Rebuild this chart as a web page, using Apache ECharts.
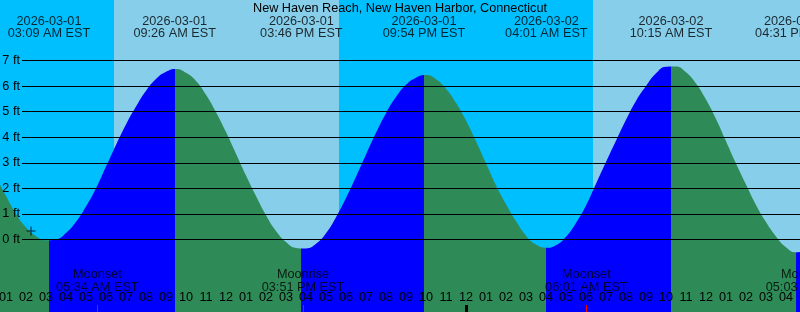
<!DOCTYPE html>
<html>
<head>
<meta charset="utf-8">
<script src="https://cdn.jsdelivr.net/npm/echarts@6/dist/echarts.min.js"></script>
<style>html,body{margin:0;padding:0;background:#fff}#c{width:800px;height:312px}</style>
</head>
<body>
<div id="c"></div>
<script>
// ---------- data (hours counted from 2026-03-01 00:00 EST) ----------
const stationTitle = 'New Haven Reach, New Haven Harbor, Connecticut';

// tide height every half hour: [hour], [feet]
const curveHours = [0.5, 1.0, 1.5, 2.0, 2.5, 3.0, 3.5, 4.0, 4.5, 5.0, 5.5, 6.0, 6.5, 7.0, 7.5, 8.0, 8.5, 9.0, 9.5,
  10.0, 10.5, 11.0, 11.5, 12.0, 12.5, 13.0, 13.5, 14.0, 14.5, 15.0, 15.5, 16.0, 16.5, 17.0, 17.5, 18.0, 18.5, 19.0, 19.5,
  20.0, 20.5, 21.0, 21.5, 22.0, 22.5, 23.0, 23.5, 24.0, 24.5, 25.0, 25.5, 26.0, 26.5, 27.0, 27.5, 28.0, 28.5, 29.0, 29.5,
  30.0, 30.5, 31.0, 31.5, 32.0, 32.5, 33.0, 33.5, 34.0, 34.5, 35.0, 35.5, 36.0, 36.5, 37.0, 37.5, 38.0, 38.5, 39.0, 39.5,
  40.0, 40.5, 41.0];
const curveFeet = [2.45, 1.70, 1.00, 0.48, 0.13, -0.03, 0.00, 0.25, 0.69, 1.29, 2.00, 2.85, 3.70, 4.50, 5.20, 5.82, 6.28, 6.56, 6.67,
  6.52, 6.20, 5.66, 4.98, 4.20, 3.35, 2.50, 1.70, 0.95, 0.33, -0.10, -0.33, -0.35, -0.17, 0.24, 0.87, 1.62, 2.45, 3.32, 4.17,
  4.94, 5.57, 6.05, 6.33, 6.43, 6.27, 5.90, 5.35, 4.65, 3.84, 2.98, 2.12, 1.38, 0.72, 0.15, -0.20, -0.32, -0.22, 0.11, 0.65,
  1.33, 2.18, 3.03, 3.86, 4.68, 5.42, 6.00, 6.50, 6.76, 6.77, 6.54, 6.10, 5.47, 4.71, 3.84, 2.97, 2.15, 1.35, 0.68, 0.12,
  -0.30, -0.50, -0.45];

// high / low tides
const extremeHours = [3.15, 9.433, 15.767, 21.9, 28.017, 34.25, 40.517];
const extremeKinds = ['low', 'high', 'low', 'high', 'low', 'high', 'low'];
const extremeDates = ['2026-03-01', '2026-03-01', '2026-03-01', '2026-03-01', '2026-03-02', '2026-03-02', '2026-03-02'];
const extremeTimes = ['03:09 AM EST', '09:26 AM EST', '03:46 PM EST', '09:54 PM EST', '04:01 AM EST', '10:15 AM EST', '04:31 PM EST'];

// sun and moon
const sunHours = [6.4, 17.65, 30.35];
const sunKinds = ['rise', 'set', 'rise'];
const moonHours = [5.567, 15.85, 30.017, 41.05];
const moonNames = ['Moonset', 'Moonrise', 'Moonset', 'Moonrise'];
const moonTimes = ['05:34 AM EST', '03:51 PM EST', '06:01 AM EST', '05:03 PM EST'];

const midnightHours = [24];
const markHour = [2.25];
const markFeet = [0.33];

const feetMin = 0, feetMax = 7, feetStep = 1;
const hourFirst = 1, hourLast = 41;

// ---------- layout / style ----------
const W = 800, H = 312;
const X_FIRST_HOUR = 6, PX_PER_HOUR = 20;
const Y_ZERO = 239.5, Y_TOP_LINE = 60.5;
const pxPerFt = (Y_ZERO - Y_TOP_LINE) / (feetMax - feetMin);
const xMin0 = hourFirst - X_FIRST_HOUR / PX_PER_HOUR;
const xMax0 = hourFirst + (W - X_FIRST_HOUR) / PX_PER_HOUR;
const yMin0 = -(H - Y_ZERO) / pxPerFt;
const yMax0 = Y_ZERO / pxPerFt;

const NIGHT = '#00BFFF', DAY = '#87CEEB', FLOOD = '#0000FF', EBB = '#2E8B57';
const FONT = '"Liberation Sans", Arial, sans-serif';
const FS = 12.7;
const txt = { color: '#000', fontFamily: FONT, fontSize: FS };

// day/night bands
const bandEdges = [xMin0].concat(sunHours).concat([xMax0]);
const bands = [];
for (let i = 0; i < bandEdges.length - 1; i++) {
  const isDay = i > 0 && sunKinds[i - 1] === 'rise';
  bands.push([{ xAxis: bandEdges[i], itemStyle: { color: isDay ? DAY : NIGHT, opacity: 1 } }, { xAxis: bandEdges[i + 1] }]);
}

// flood / ebb pieces
const pieces = [{ lt: extremeHours[0], color: extremeKinds[0] === 'low' ? EBB : FLOOD }];
for (let i = 0; i < extremeHours.length; i++) {
  const p = { gte: extremeHours[i], color: extremeKinds[i] === 'low' ? FLOOD : EBB };
  if (i < extremeHours.length - 1) p.lt = extremeHours[i + 1];
  pieces.push(p);
}

const pad2 = n => (n < 10 ? '0' : '') + n;

const chart = echarts.init(document.getElementById('c'), null, { renderer: 'canvas' });
chart.setOption({
  animation: false,
  backgroundColor: '#fff',
  title: {
    text: stationTitle, left: 'center', top: 1.5, padding: 0,
    textStyle: Object.assign({ fontWeight: 'normal', lineHeight: 13 }, txt)
  },
  grid: [
    { left: 0, right: 0, top: 0, bottom: 0, outerBoundsMode: 'none', containLabel: false },
    { left: 22, right: 0, top: Y_TOP_LINE, bottom: H - Y_ZERO, outerBoundsMode: 'none', containLabel: false },
    { left: X_FIRST_HOUR, right: W - (X_FIRST_HOUR + (hourLast - hourFirst) * PX_PER_HOUR), top: 305, bottom: 0, outerBoundsMode: 'none', containLabel: false }
  ],
  xAxis: [
    { gridIndex: 0, type: 'value', min: xMin0, max: xMax0, show: false },
    { gridIndex: 1, type: 'value', min: 0, max: 1, show: false },
    {
      gridIndex: 2, type: 'value', position: 'top', min: hourFirst, max: hourLast, interval: 1, z: 5,
      axisLine: { show: false }, splitLine: { show: false },
      axisTick: { show: true, inside: true, length: 7, lineStyle: { color: '#000', width: 1 } },
      axisLabel: Object.assign({
        margin: 1, lineHeight: 13, showMinLabel: true, showMaxLabel: true,
        formatter: v => { const h = Math.round(v) % 12; return pad2(h === 0 ? 12 : h); }
      }, txt)
    }
  ],
  yAxis: [
    { gridIndex: 0, type: 'value', min: yMin0, max: yMax0, show: false },
    {
      gridIndex: 1, type: 'value', min: feetMin, max: feetMax, interval: feetStep, z: 4,
      axisLine: { show: false }, axisTick: { show: false },
      splitLine: { show: true, lineStyle: { color: '#000', width: 1 } },
      axisLabel: Object.assign({ margin: 2, formatter: '{value} ft' }, txt)
    },
    { gridIndex: 2, type: 'value', min: 0, max: 1, show: false }
  ],
  visualMap: {
    type: 'piecewise', show: false, dimension: 0, seriesIndex: 0, pieces: pieces
  },
  series: [
    {
      type: 'line', xAxisIndex: 0, yAxisIndex: 0, z: 2, silent: true,
      data: curveHours.map((h, i) => [h, curveFeet[i]]),
      smooth: true, symbol: 'none',
      lineStyle: { width: 0 },
      areaStyle: { opacity: 1, origin: 'start' },
      markArea: { silent: true, z: 1, data: bands }
    },
    {
      type: 'scatter', xAxisIndex: 0, yAxisIndex: 0, z: 6, silent: true, clip: false,
      data: markHour.map((h, i) => [h, markFeet[i]]),
      symbol: 'path://M4,0h1v9h-1zM0,4h9v1h-9z', symbolSize: 9,
      itemStyle: { color: '#000' }
    },
    {
      type: 'scatter', xAxisIndex: 0, yAxisIndex: 0, z: 6, silent: true, clip: false,
      data: extremeHours.map(h => [h, yMax0]),
      symbolSize: 0, itemStyle: { color: 'transparent' },
      label: Object.assign({
        show: true, position: 'bottom', distance: 15, lineHeight: 12, align: 'center',
        formatter: p => extremeDates[p.dataIndex] + '\n' + extremeTimes[p.dataIndex]
      }, txt)
    },
    {
      type: 'scatter', xAxisIndex: 0, yAxisIndex: 0, z: 6, silent: true, clip: false,
      data: moonHours.map(h => [h, yMin0]),
      symbolSize: 0, itemStyle: { color: 'transparent' },
      label: Object.assign({
        show: true, position: 'top', distance: 18.5, lineHeight: 12.7, align: 'center',
        formatter: p => moonNames[p.dataIndex] + '\n' + moonTimes[p.dataIndex]
      }, txt)
    },
    {
      type: 'scatter', xAxisIndex: 2, yAxisIndex: 2, z: 6, silent: true,
      data: midnightHours.map(h => [h, 0]), symbolSize: 0, itemStyle: { color: 'transparent' },
      markLine: {
        silent: true, symbol: 'none', label: { show: false }, animation: false,
        data: midnightHours.map(h => ({ xAxis: h, lineStyle: { color: '#000', width: 3, type: 'solid' } }))
          .concat(moonHours.filter(h => h <= hourLast).map(h => ({ xAxis: h, lineStyle: { color: '#FF0000', width: 1, type: 'solid' } })))
      }
    }
  ]
});
</script>
</body>
</html>
